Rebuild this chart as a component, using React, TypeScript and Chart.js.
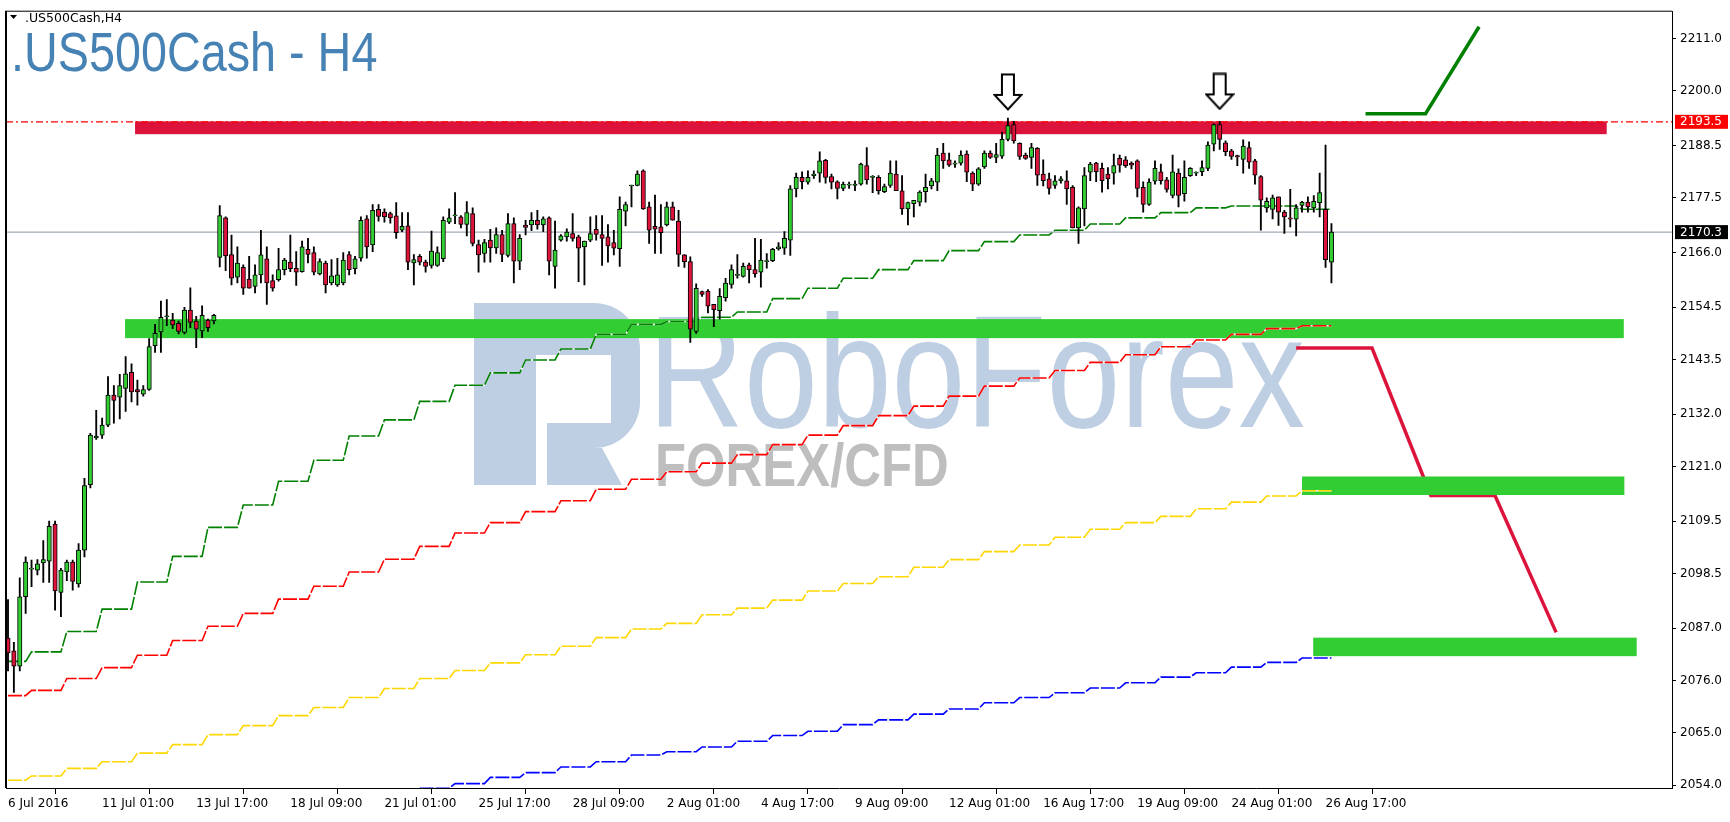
import React, { useEffect, useRef } from 'react';
import { Chart, registerables } from 'chart.js';

Chart.register(...registerables);

// ---------- candles (H4 bars, index 0 = first visible bar) ----------
const opens = [
  2084.9, 2082.2, 2079.0, 2093.6, 2099.4, 2099.2, 2100.7, 2101.1, 2108.9, 2094.5,
  2098.8, 2100.9, 2096.3, 2103.4, 2117.2, 2127.0, 2127.6, 2129.7, 2136.0, 2135.6,
  2137.4, 2140.8, 2137.2, 2136.2, 2137.2, 2146.4, 2149.3, 2152.5, 2151.8, 2151.1,
  2149.2, 2153.9, 2151.6, 2149.5, 2151.8, 2151.6, 2165.0, 2173.3, 2165.6, 2160.8,
  2162.9, 2160.4, 2158.9, 2161.3, 2164.7, 2160.1, 2160.3, 2162.4, 2164.0, 2162.7,
  2162.0, 2166.7, 2166.0, 2161.5, 2163.8, 2159.6, 2159.2, 2159.6, 2165.6, 2162.6,
  2164.8, 2173.1, 2167.6, 2175.1, 2174.5, 2174.2, 2173.7, 2170.7, 2171.6, 2163.8,
  2165.2, 2164.0, 2163.3, 2163.3, 2164.7, 2172.4, 2173.7, 2173.5, 2171.9, 2174.2,
  2167.7, 2165.8, 2168.6, 2167.0, 2169.8, 2165.4, 2172.1, 2164.2, 2171.8, 2171.8,
  2172.8, 2171.8, 2173.3, 2163.1, 2168.6, 2169.3, 2170.0, 2169.3, 2167.2, 2168.6,
  2170.9, 2169.8, 2169.3, 2168.1, 2166.8, 2174.7, 2180.0, 2180.1, 2183.2, 2175.6,
  2171.5, 2171.4, 2171.8, 2175.6, 2172.6, 2165.5, 2164.1, 2149.4, 2157.8, 2157.9,
  2155.1, 2153.8, 2156.5, 2159.3, 2161.2, 2161.0, 2163.4, 2162.4, 2161.9, 2164.1,
  2164.3, 2166.8, 2166.9, 2168.6, 2179.4, 2181.8, 2180.8, 2182.2, 2182.7, 2185.4,
  2182.0, 2180.9, 2179.5, 2180.2, 2180.1, 2180.4, 2184.3, 2181.8, 2181.8, 2178.8,
  2180.1, 2182.5, 2179.0, 2175.2, 2176.3, 2176.6, 2178.8, 2180.0, 2180.8, 2186.9,
  2185.5, 2184.6, 2184.8, 2186.7, 2182.7, 2180.4, 2184.0, 2186.9, 2186.0, 2186.3,
  2189.8, 2192.9, 2189.0, 2186.5, 2186.0, 2187.9, 2182.5, 2181.5, 2180.1, 2181.1,
  2181.1, 2179.7, 2171.2, 2175.2, 2182.9, 2184.8, 2183.7, 2182.5, 2182.7, 2185.8,
  2185.5, 2184.8, 2185.3, 2179.7, 2176.1, 2181.0, 2183.0, 2181.3, 2178.0, 2182.7,
  2178.4, 2182.2, 2182.7, 2183.0, 2183.7, 2188.8, 2192.9, 2189.1, 2187.4, 2186.4,
  2185.6, 2188.1, 2185.3, 2182.0, 2175.4, 2175.1, 2177.7, 2174.5, 2173.3, 2173.0,
  2175.9, 2176.6, 2175.4, 2176.5, 2175.1, 2164.0,
];
const highs = [
  2093.0, 2084.0, 2097.6, 2102.0, 2101.3, 2101.4, 2105.4, 2109.5, 2109.5, 2099.6,
  2101.3, 2101.3, 2104.8, 2118.5, 2128.0, 2132.8, 2131.2, 2139.9, 2138.0, 2140.4,
  2144.1, 2142.6, 2139.2, 2138.0, 2147.9, 2150.9, 2155.8, 2156.1, 2153.2, 2151.6,
  2154.5, 2158.6, 2152.6, 2154.8, 2152.0, 2153.0, 2175.9, 2173.5, 2169.7, 2167.2,
  2163.4, 2165.2, 2163.4, 2170.7, 2167.2, 2161.3, 2166.9, 2164.8, 2169.7, 2166.2,
  2168.4, 2169.0, 2167.2, 2164.7, 2164.2, 2164.5, 2164.8, 2166.0, 2166.2, 2165.2,
  2173.5, 2173.8, 2176.1, 2176.1, 2175.2, 2174.5, 2176.5, 2174.4, 2174.4, 2165.6,
  2165.6, 2164.4, 2170.5, 2167.2, 2173.5, 2175.2, 2178.6, 2173.8, 2176.7, 2175.4,
  2168.6, 2168.8, 2170.9, 2171.2, 2170.7, 2174.2, 2173.3, 2169.8, 2172.8, 2174.4,
  2174.9, 2173.5, 2173.5, 2172.6, 2169.8, 2171.0, 2174.2, 2169.7, 2168.4, 2173.5,
  2173.8, 2173.8, 2171.9, 2170.7, 2177.7, 2176.6, 2180.2, 2183.2, 2183.4, 2176.6,
  2178.1, 2176.1, 2176.6, 2176.6, 2174.9, 2165.6, 2165.1, 2159.4, 2157.9, 2158.2,
  2155.1, 2158.4, 2160.6, 2163.4, 2165.6, 2163.8, 2163.8, 2169.0, 2168.8, 2165.8,
  2166.9, 2168.1, 2170.4, 2180.1, 2182.7, 2183.0, 2183.2, 2183.2, 2187.2, 2185.6,
  2182.5, 2181.1, 2180.8, 2180.8, 2181.1, 2184.8, 2188.1, 2182.2, 2182.2, 2180.4,
  2185.3, 2185.3, 2182.2, 2176.6, 2177.0, 2179.0, 2182.5, 2181.6, 2187.9, 2189.0,
  2186.9, 2185.3, 2187.4, 2187.4, 2183.0, 2183.9, 2187.4, 2187.4, 2189.0, 2191.3,
  2194.3, 2193.6, 2189.1, 2186.9, 2189.0, 2188.1, 2185.5, 2182.7, 2182.2, 2182.0,
  2183.2, 2180.1, 2175.6, 2183.9, 2185.0, 2185.0, 2184.8, 2183.9, 2186.7, 2186.5,
  2186.2, 2185.1, 2185.5, 2180.9, 2181.5, 2185.3, 2184.6, 2181.8, 2186.5, 2183.6,
  2185.3, 2183.9, 2183.0, 2185.3, 2189.3, 2193.1, 2193.6, 2189.5, 2187.7, 2186.5,
  2189.7, 2189.3, 2185.6, 2182.2, 2177.5, 2178.1, 2177.7, 2174.9, 2179.3, 2176.1,
  2176.8, 2177.7, 2178.0, 2182.7, 2188.6, 2172.1,
];
const lows = [
  2078.0, 2073.5, 2078.0, 2090.1, 2095.7, 2098.2, 2096.6, 2096.6, 2090.8, 2089.4,
  2097.0, 2095.0, 2095.6, 2102.0, 2116.5, 2126.7, 2126.9, 2129.4, 2130.1, 2131.0,
  2132.6, 2134.6, 2133.9, 2135.8, 2137.0, 2145.0, 2145.0, 2150.6, 2150.0, 2148.9,
  2148.9, 2150.2, 2146.0, 2148.1, 2149.4, 2151.0, 2163.0, 2162.2, 2159.2, 2159.6,
  2157.2, 2158.5, 2157.5, 2159.6, 2155.1, 2157.9, 2160.0, 2161.3, 2162.0, 2159.1,
  2161.9, 2163.8, 2161.3, 2161.3, 2157.5, 2159.2, 2158.9, 2159.2, 2161.3, 2161.5,
  2164.2, 2164.8, 2166.2, 2172.6, 2172.4, 2172.2, 2169.0, 2170.4, 2162.4, 2159.2,
  2163.4, 2161.9, 2162.7, 2163.1, 2164.1, 2172.1, 2172.1, 2171.2, 2169.5, 2167.4,
  2161.9, 2164.0, 2164.0, 2165.8, 2164.1, 2165.1, 2159.6, 2162.4, 2169.7, 2170.6,
  2170.9, 2170.4, 2161.3, 2158.5, 2168.4, 2168.4, 2168.4, 2159.9, 2159.2, 2168.3,
  2168.6, 2163.3, 2164.0, 2165.5, 2163.1, 2171.6, 2175.6, 2180.0, 2175.1, 2167.9,
  2165.8, 2165.8, 2171.6, 2172.8, 2163.1, 2162.9, 2147.1, 2149.0, 2156.8, 2153.3,
  2150.4, 2152.0, 2155.8, 2158.5, 2160.6, 2160.8, 2159.6, 2160.8, 2158.7, 2162.7,
  2164.1, 2166.5, 2165.6, 2165.4, 2177.7, 2179.4, 2180.4, 2181.6, 2180.8, 2180.6,
  2179.4, 2177.3, 2179.0, 2179.5, 2179.0, 2180.2, 2180.4, 2178.6, 2178.3, 2178.6,
  2179.7, 2179.0, 2174.0, 2171.8, 2173.5, 2175.8, 2176.6, 2179.4, 2179.0, 2183.7,
  2184.1, 2183.9, 2184.4, 2180.9, 2179.0, 2180.1, 2183.7, 2185.8, 2184.9, 2185.8,
  2189.5, 2189.0, 2185.6, 2185.6, 2183.7, 2180.1, 2180.0, 2178.3, 2179.5, 2180.6,
  2176.1, 2171.2, 2167.9, 2171.6, 2181.1, 2180.9, 2178.7, 2179.4, 2180.4, 2182.9,
  2183.9, 2183.6, 2177.7, 2174.5, 2175.9, 2180.4, 2180.4, 2178.7, 2177.5, 2175.6,
  2176.8, 2182.0, 2182.2, 2182.2, 2183.2, 2187.4, 2187.7, 2186.4, 2185.6, 2184.3,
  2182.7, 2183.7, 2180.4, 2170.7, 2174.5, 2173.1, 2171.7, 2170.0, 2171.4, 2169.5,
  2174.5, 2174.5, 2174.5, 2173.5, 2162.9, 2159.6,
];
const closes = [
  2081.8, 2079.0, 2093.6, 2100.9, 2099.6, 2100.5, 2101.4, 2108.4, 2094.8, 2099.2,
  2100.9, 2096.8, 2103.4, 2117.0, 2127.6, 2127.4, 2129.7, 2136.0, 2134.9, 2138.0,
  2140.5, 2136.7, 2136.7, 2137.2, 2146.2, 2149.0, 2152.4, 2152.5, 2150.8, 2149.4,
  2153.9, 2151.3, 2149.9, 2152.8, 2150.2, 2152.8, 2173.8, 2165.3, 2160.6, 2163.8,
  2158.5, 2158.5, 2161.3, 2165.5, 2159.6, 2158.5, 2162.4, 2164.4, 2162.6, 2161.9,
  2167.2, 2165.6, 2161.9, 2164.1, 2159.2, 2161.1, 2161.3, 2164.4, 2162.4, 2164.7,
  2172.8, 2167.2, 2174.9, 2173.6, 2173.5, 2173.3, 2170.2, 2171.5, 2164.0, 2164.5,
  2164.0, 2163.1, 2166.3, 2166.0, 2172.8, 2173.3, 2173.7, 2171.9, 2174.4, 2167.9,
  2165.5, 2168.1, 2167.0, 2169.8, 2165.6, 2172.1, 2164.2, 2169.0, 2171.3, 2172.8,
  2171.8, 2173.1, 2164.2, 2166.5, 2169.5, 2170.3, 2169.0, 2166.9, 2168.4, 2170.0,
  2169.8, 2169.0, 2167.4, 2166.9, 2175.1, 2176.1, 2180.2, 2182.5, 2175.2, 2170.7,
  2170.9, 2170.2, 2175.6, 2172.8, 2165.6, 2164.1, 2149.9, 2158.5, 2157.2, 2154.7,
  2154.0, 2156.8, 2159.6, 2162.4, 2161.4, 2163.1, 2162.4, 2161.5, 2164.4, 2164.1,
  2166.7, 2167.2, 2169.0, 2179.4, 2181.8, 2180.9, 2181.8, 2182.5, 2185.3, 2181.8,
  2180.8, 2179.5, 2180.4, 2180.2, 2180.4, 2184.6, 2181.3, 2181.8, 2179.0, 2179.9,
  2182.7, 2179.0, 2175.2, 2176.5, 2177.0, 2178.7, 2179.7, 2181.1, 2186.5, 2185.3,
  2184.4, 2184.6, 2186.5, 2182.9, 2180.4, 2183.6, 2186.9, 2186.0, 2186.6, 2189.8,
  2192.7, 2189.5, 2186.2, 2185.8, 2188.1, 2182.3, 2181.1, 2179.5, 2181.1, 2181.5,
  2179.4, 2171.2, 2175.4, 2182.2, 2184.6, 2183.0, 2181.1, 2181.5, 2184.3, 2184.4,
  2184.3, 2184.4, 2179.5, 2176.1, 2180.8, 2183.7, 2181.1, 2179.3, 2183.0, 2178.0,
  2181.8, 2183.7, 2182.7, 2183.9, 2188.6, 2192.9, 2189.8, 2187.2, 2186.2, 2186.1,
  2188.4, 2185.0, 2182.3, 2177.0, 2176.8, 2177.5, 2174.5, 2173.5, 2173.0, 2175.4,
  2176.6, 2175.6, 2176.8, 2178.6, 2164.5, 2170.3,
];

// ---------- axes ----------
const xTickIndex = [0, 16, 32, 48, 64, 80, 96, 112, 128, 144, 160, 176, 192, 208, 224];
const xTickLabels = [
  '6 Jul 2016', '11 Jul 01:00', '13 Jul 17:00', '18 Jul 09:00', '21 Jul 01:00',
  '25 Jul 17:00', '28 Jul 09:00', '2 Aug 01:00', '4 Aug 17:00', '9 Aug 09:00',
  '12 Aug 01:00', '16 Aug 17:00', '19 Aug 09:00', '24 Aug 01:00', '26 Aug 17:00',
];
const yTickValues = [
  2054.0, 2065.0, 2076.0, 2087.0, 2098.5, 2109.5, 2121.0, 2132.0,
  2143.5, 2154.5, 2166.0, 2177.5, 2188.5, 2200.0, 2211.0,
];
const X_MIN = -0.34;
const X_MAX = 282.9;
const Y_MIN = 2053.37;
const Y_MAX = 2216.77;

// ---------- daily step indicator lines ----------
const dayStarts = [
  0, 4, 10, 16, 22, 28, 34, 40, 46, 52, 58, 64, 70, 76, 82, 88, 94, 100, 106,
  112, 118, 124, 130, 136, 142, 148, 154, 160, 166, 172, 178, 184, 190, 196, 202,
  208, 214, 220,
];
const greenStepLevels = [
  2080.0, 2082.0, 2086.3, 2091.0, 2096.7, 2102.1, 2108.2, 2112.9, 2117.9, 2122.3,
  2127.4, 2130.8, 2134.7, 2138.1, 2140.7, 2143.4, 2145.7, 2148.8, 2150.9, 2151.5,
  2152.4, 2153.5, 2156.3, 2158.5, 2160.6, 2162.4, 2164.3, 2166.4, 2168.3, 2169.7,
  2170.7, 2172.0, 2173.3, 2174.4, 2175.4, 2175.8, 2175.8, 2175.1,
];
const redStepLevels = [
  2072.8, 2073.9, 2076.4, 2078.7, 2081.3, 2084.4, 2087.4, 2090.1, 2093.1, 2095.8,
  2098.8, 2101.5, 2104.2, 2107.0, 2109.2, 2111.5, 2113.8, 2116.2, 2118.3, 2119.9,
  2121.7, 2123.5, 2125.6, 2127.6, 2129.6, 2131.7, 2133.7, 2135.8, 2137.9, 2139.6,
  2141.2, 2142.9, 2144.5, 2146.2, 2147.6, 2148.8, 2150.0, 2150.6,
];
const yellowStepLevels = [
  2055.0, 2055.9, 2057.5, 2058.9, 2060.7, 2062.5, 2064.6, 2066.5, 2068.6, 2070.3,
  2072.4, 2074.3, 2076.4, 2078.1, 2079.7, 2081.4, 2083.2, 2085.0, 2086.8, 2088.0,
  2089.8, 2091.2, 2092.9, 2094.8, 2096.4, 2097.8, 2099.8, 2101.4, 2103.1, 2104.5,
  2106.1, 2107.8, 2109.2, 2110.5, 2112.1, 2113.5, 2114.8, 2115.9,
];
const blueFirstDay = 12;
const blueStepLevels = [
  2053.3, 2054.3, 2055.6, 2056.6, 2057.8, 2058.9, 2060.3, 2061.0, 2062.0, 2063.2,
  2064.4, 2065.3, 2066.7, 2067.7, 2068.9, 2070.0, 2071.3, 2072.4, 2073.4, 2074.4,
  2075.5, 2076.7, 2077.6, 2078.8, 2079.8, 2080.7,
];

// ---------- drawn objects ----------
const bandStartX = [21.6, 19.9, 220.0, 221.9];
const bandEndX = [271.8, 274.7, 274.8, 276.9];
const bandLow = [2190.9, 2148.0, 2115.0, 2081.1];
const bandHigh = [2193.6, 2152.0, 2118.9, 2085.0];
const bandColors = ['#DC143C', '#32CD32', '#32CD32', '#32CD32'];

const resistanceLevel = 2193.5;
const lastPrice = 2170.3;

const arrowX = [170, 206];
const arrowY = [2199.8, 2199.9];

const upPathX = [230.8, 241.0, 250.1];
const upPathY = [2195.2, 2195.2, 2213.5];
const downPathX = [219.0, 231.9, 241.9, 252.8, 263.2];
const downPathY = [2145.9, 2145.9, 2114.9, 2114.9, 2086.1];

const W = 1730;
const H = 822;

function makeArrowCanvas(): HTMLCanvasElement {
  const c = document.createElement('canvas');
  c.width = 30;
  c.height = 38;
  const g = c.getContext('2d')!;
  g.beginPath();
  g.moveTo(9, 1.5);
  g.lineTo(21, 1.5);
  g.lineTo(21, 22);
  g.lineTo(28.5, 22);
  g.lineTo(15, 36.5);
  g.lineTo(1.5, 22);
  g.lineTo(9, 22);
  g.closePath();
  g.fillStyle = '#ffffff';
  g.fill();
  g.lineWidth = 2;
  g.lineJoin = 'miter';
  g.strokeStyle = '#000000';
  g.stroke();
  return c;
}

function drawWatermark(c: CanvasRenderingContext2D) {
  c.save();
  const blue = '#BFCFE3';
  c.fillStyle = blue;
  // logo: left bar
  c.fillRect(474, 303, 62, 182);
  // logo: bowl
  c.beginPath();
  c.moveTo(536, 303);
  c.lineTo(594, 303);
  c.arcTo(640, 303, 640, 349, 46);
  c.lineTo(640, 402);
  c.arcTo(640, 448, 594, 448, 46);
  c.lineTo(536, 448);
  c.closePath();
  c.fill();
  c.fillStyle = '#ffffff';
  c.fillRect(536, 355, 75, 68);
  c.fillRect(536, 423, 11, 62);
  // logo: leg
  c.fillStyle = blue;
  c.beginPath();
  c.moveTo(547, 448);
  c.lineTo(602, 448);
  c.lineTo(622, 485);
  c.lineTo(547, 485);
  c.closePath();
  c.fill();
  // text
  c.save();
  c.translate(648, 427);
  c.scale(0.83, 1);
  c.font = '160px "Liberation Sans"';
  c.textBaseline = 'alphabetic';
  c.fillStyle = blue;
  c.fillText('RoboForex', 0, 0);
  c.restore();
  c.save();
  c.translate(655, 486);
  c.scale(0.82, 1);
  c.font = 'bold 62px "Liberation Sans"';
  c.fillStyle = '#BEBEBE';
  c.fillText('FOREX/CFD', 0, 0);
  c.restore();
  c.restore();
}

export default function App() {
  const ref = useRef<HTMLCanvasElement>(null);

  useEffect(() => {
    document.body.style.margin = '0';
    document.body.style.background = '#ffffff';
    const canvas = ref.current!;
    const ctx = canvas.getContext('2d')!;
    const lastIdx = opens.length - 1;
    const idx = opens.map((_, i) => i);

    const stepPts = (levels: number[], firstDay: number) => {
      const pts: { x: number; y: number }[] = [];
      levels.forEach((lv, k) => {
        const d = firstDay + k;
        const s = dayStarts[d];
        const e = d + 1 < dayStarts.length ? dayStarts[d + 1] - 1 : lastIdx;
        pts.push({ x: s, y: lv }, { x: e, y: lv });
      });
      return pts;
    };

    const stepSets: any[] = [];
    const steps: [string, string, number[], number][] = [
      ['green', '#008000', greenStepLevels, 0],
      ['red', '#FF0000', redStepLevels, 0],
      ['yellow', '#FFD700', yellowStepLevels, 0],
      ['blue', '#0000FF', blueStepLevels, blueFirstDay],
    ];
    steps.forEach(([name, color, levels, first], k) => {
      const pts = stepPts(levels, first);
      stepSets.push({
        type: 'line', label: name + '-step-under', data: pts, borderColor: '#ffffff',
        borderWidth: 1.6, pointRadius: 0, order: 90 - k * 2,
      });
      stepSets.push({
        type: 'line', label: name + '-step', data: pts, borderColor: color,
        borderWidth: 1.6, borderDash: [14, 2], pointRadius: 0, order: 89 - k * 2,
      });
    });

    const arrowImg = makeArrowCanvas();

    const decor = {
      id: 'decor',
      beforeDatasetsDraw(chart: any) {
        const c = chart.ctx;
        const a = chart.chartArea;
        c.save();
        c.beginPath();
        c.rect(a.left, a.top, a.right - a.left, a.bottom - a.top);
        c.clip();
        drawWatermark(c);
        c.restore();
      },
      beforeDatasetDraw(chart: any, args: any) {
        const ds = chart.data.datasets[args.index];
        if (ds.label !== 'green-step-under') return;
        const c = chart.ctx;
        const xs = chart.scales.x;
        const ys = chart.scales.y;
        c.save();
        bandStartX.forEach((x0, k) => {
          const x1 = xs.getPixelForValue(x0);
          const x2 = xs.getPixelForValue(bandEndX[k]);
          const y1 = ys.getPixelForValue(bandHigh[k]);
          const y2 = ys.getPixelForValue(bandLow[k]);
          c.fillStyle = bandColors[k];
          c.fillRect(x1, y1, x2 - x1, y2 - y1);
        });
        c.restore();
      },
      afterDraw(chart: any) {
        const c = chart.ctx;
        const a = chart.chartArea;
        const ys = chart.scales.y;
        c.save();
        // frame
        c.fillStyle = '#000000';
        c.fillRect(a.left - 1, a.top, 2, a.bottom - a.top);
        c.fillRect(a.left - 1, a.top - 0.5, a.right - a.left + 1, 1);
        // header
        c.beginPath();
        c.moveTo(10, 15);
        c.lineTo(17, 15);
        c.lineTo(13.5, 19);
        c.closePath();
        c.fill();
        c.font = '12.5px "DejaVu Sans"';
        c.textBaseline = 'alphabetic';
        c.fillText('.US500Cash,H4', 25, 22);
        // title
        c.save();
        c.translate(11, 71);
        c.scale(0.85, 1);
        c.font = '55px "Liberation Sans"';
        c.fillStyle = '#4682B4';
        c.fillText('.US500Cash - H4', 0, 0);
        c.restore();
        // price labels
        const boxes: [number, string][] = [
          [resistanceLevel, '#FF0000'],
          [lastPrice, '#000000'],
        ];
        c.font = '12px "DejaVu Sans"';
        c.textBaseline = 'middle';
        boxes.forEach(([v, col]) => {
          const yp = ys.getPixelForValue(v);
          c.fillStyle = col;
          c.fillRect(a.right + 3, yp - 7, 53, 14);
          c.fillStyle = '#ffffff';
          c.fillText(v.toFixed(1), a.right + 8, yp + 0.5);
        });
        c.restore();
      },
    };

    const chart = new Chart(ctx, {
      type: 'bar',
      data: {
        datasets: [
          {
            type: 'line', label: 'down-path',
            data: downPathX.map((x, i) => ({ x, y: downPathY[i] })),
            borderColor: '#DC143C', borderWidth: 3.5, pointRadius: 0, order: 100,
          } as any,
          ...stepSets,
          {
            type: 'line', label: 'last-price',
            data: [{ x: X_MIN, y: lastPrice }, { x: X_MAX, y: lastPrice }],
            borderColor: '#8A96A3', borderWidth: 1, pointRadius: 0, order: 70,
          },
          {
            type: 'line', label: 'resistance',
            data: [{ x: X_MIN, y: resistanceLevel }, { x: X_MAX, y: resistanceLevel }],
            borderColor: '#FF0000', borderWidth: 1.3, borderDash: [7, 3, 2, 3], pointRadius: 0, order: 69,
          },
          {
            type: 'bar', label: 'wicks',
            data: idx.map((i) => ({ x: i, y: [lows[i], highs[i]] })),
            backgroundColor: '#000000', barThickness: 1.2, grouped: false, order: 60,
          },
          {
            type: 'bar', label: 'bodies',
            data: idx.map((i) => ({ x: i, y: [opens[i], closes[i]] })),
            backgroundColor: idx.map((i) => (closes[i] >= opens[i] ? '#32CD32' : '#DC143C')),
            borderColor: '#000000', borderWidth: 1, borderSkipped: false,
            barThickness: 4.4, minBarLength: 1, grouped: false, order: 50,
          },
          {
            type: 'line', label: 'up-path',
            data: upPathX.map((x, i) => ({ x, y: upPathY[i] })),
            borderColor: '#008000', borderWidth: 3.5, pointRadius: 0, order: 40,
          },
          {
            type: 'line', label: 'arrows',
            data: arrowX.map((x, i) => ({ x, y: arrowY[i] })),
            showLine: false, pointStyle: arrowImg as any, pointRadius: 5, order: 30,
          },
        ] as any,
      },
      options: {
        animation: false,
        responsive: false,
        devicePixelRatio: 1,
        events: [],
        layout: { padding: { left: 4, top: 4, right: 0, bottom: 0 } },
        plugins: { legend: { display: false }, tooltip: { enabled: false }, title: { display: false } },
        scales: {
          x: {
            type: 'linear', min: X_MIN, max: X_MAX, offset: false,
            afterBuildTicks: (s: any) => { s.ticks = xTickIndex.map((v) => ({ value: v })); },
            afterFit: (s: any) => { s.height = 34; },
            grid: { display: true, drawOnChartArea: false, drawTicks: true, tickLength: 6, color: '#000000' },
            border: { display: true, color: '#000000', width: 1 },
            ticks: {
              autoSkip: false, maxRotation: 0, minRotation: 0, align: 'start', padding: 3,
              color: '#000000', font: { family: 'DejaVu Sans', size: 12 },
              callback: (v: any) => { const k = xTickIndex.indexOf(Number(v)); return k >= 0 ? xTickLabels[k] : ''; },
            },
          },
          y: {
            type: 'linear', position: 'right', min: Y_MIN, max: Y_MAX,
            afterBuildTicks: (s: any) => { s.ticks = yTickValues.map((v) => ({ value: v })); },
            afterFit: (s: any) => { s.width = 58; },
            grid: { display: true, drawOnChartArea: false, drawTicks: true, tickLength: 4, color: '#000000' },
            border: { display: true, color: '#000000', width: 1 },
            ticks: {
              padding: 4, color: '#000000', font: { family: 'DejaVu Sans', size: 12 },
              callback: (v: any) => Number(v).toFixed(1),
            },
          },
        },
      } as any,
      plugins: [decor],
    });

    return () => chart.destroy();
  }, []);

  return <canvas ref={ref} width={W} height={H} style={{ display: 'block', width: W, height: H }} />;
}
